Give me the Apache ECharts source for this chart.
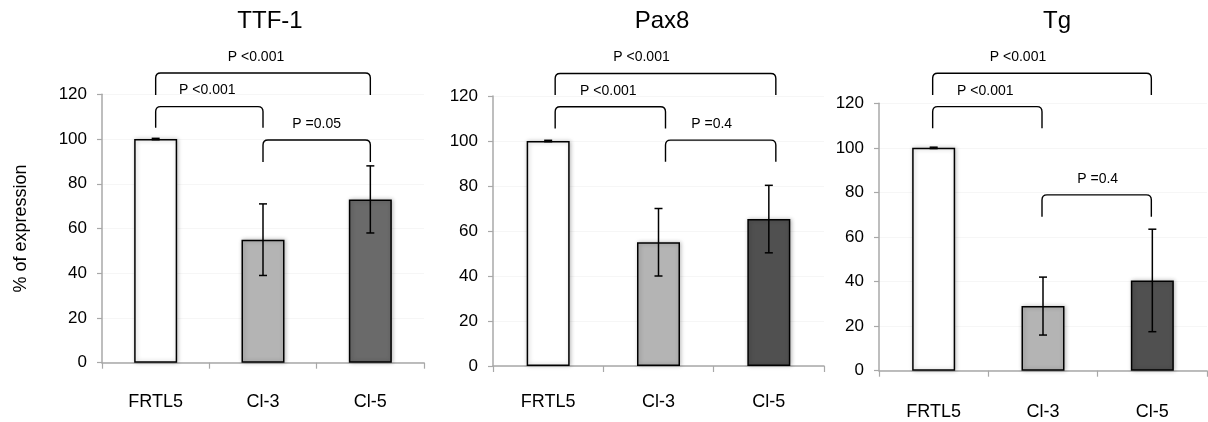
<!DOCTYPE html>
<html>
<head>
<meta charset="utf-8">
<script src="https://cdn.jsdelivr.net/npm/echarts@6/dist/echarts.min.js"></script>
<style>
  html, body { margin: 0; padding: 0; background: #fff; }
  #chart { width: 1208px; height: 422px; }
</style>
</head>
<body>
<div id="chart"></div>
<script>
// ---------- data ----------
const panelTitles = ['TTF-1', 'Pax8', 'Tg'];
const categories = ['FRTL5', 'Cl-3', 'Cl-5'];
const yAxisName = '% of expression';
const yMax = 120;
const yStep = 20;

const ttf1Values = [100, 55, 73];
const ttf1Errors = [0.3, 16, 15];
const pax8Values = [100, 55, 65.3];
const pax8Errors = [0.3, 15, 15];
const tgValues = [100, 29, 40.5];
const tgErrors = [0.3, 13, 23];

// brackets: [fromIndex, toIndex, topValue, legEndValue]
const ttf1Brackets = [[0, 2, 129.5, 119.7], [0, 1, 114.5, 105], [1, 2, 99.6, 89.7]];
const pax8Brackets = [[0, 2, 130, 120.4], [0, 1, 115.2, 105.6], [1, 2, 100.4, 90.8]];
const tgBrackets = [[0, 2, 133.5, 123.7], [0, 1, 118.5, 108.8], [1, 2, 78.9, 69.1]];

const ttf1PLabels = ['P <0.001', 'P <0.001', 'P =0.05'];
const pax8PLabels = ['P <0.001', 'P <0.001', 'P =0.4'];
const tgPLabels = ['P <0.001', 'P <0.001', 'P =0.4'];

// ---------- layout / style ----------
const panelValues = [ttf1Values, pax8Values, tgValues];
const panelErrors = [ttf1Errors, pax8Errors, tgErrors];
const panelBrackets = [ttf1Brackets, pax8Brackets, tgBrackets];
const panelPLabels = [ttf1PLabels, pax8PLabels, tgPLabels];

const layout = [
  { left: 102, top: 94.3, width: 322, height: 268.4, titleX: 270, catMargin: 30, bracketDx: 0, labelDx: [-7, -2, 0] },
  { left: 493, top: 96, width: 331, height: 270, titleX: 662, catMargin: 27, bracketDx: 7, labelDx: [-24, -2, -9] },
  { left: 879, top: 103.3, width: 328, height: 267.4, titleX: 1057, catMargin: 32, bracketDx: -1, labelDx: [-24, -2, 1] }
];
const barFills = [
  ['#ffffff', '#b4b4b4', '#6a6a6a'],
  ['#ffffff', '#b4b4b4', '#505050'],
  ['#ffffff', '#b4b4b4', '#505050']
];
const FONT = 'Liberation Sans, Arial, Helvetica, sans-serif';

// ---------- build option ----------
const grids = [], xAxes = [], yAxes = [], series = [], titles = [];

layout.forEach((L, p) => {
  grids.push({ left: L.left, top: L.top, width: L.width, height: L.height, outerBoundsMode: 'none', containLabel: false });
  titles.push({
    text: panelTitles[p], left: L.titleX, top: 9, textAlign: 'center', padding: 0,
    textStyle: { fontFamily: FONT, fontSize: 24, fontWeight: 'normal', color: '#000' }
  });
  xAxes.push({
    type: 'category', gridIndex: p, data: categories, boundaryGap: true,
    axisLine: { show: true, lineStyle: { color: '#a8a8a8', width: 1.5 } },
    axisTick: { show: true, length: 6, interval: 0, alignWithLabel: false, lineStyle: { color: '#a8a8a8', width: 1.2 } },
    axisLabel: { fontFamily: FONT, fontSize: 18, color: '#000', margin: L.catMargin, interval: 0 },
    splitLine: { show: false }
  });
  yAxes.push({
    type: 'value', gridIndex: p, min: 0, max: yMax, interval: yStep,
    name: p === 0 ? yAxisName : '', nameLocation: 'middle', nameGap: 72, nameRotate: 90,
    nameTextStyle: { fontFamily: FONT, fontSize: 18, color: '#000' },
    axisLine: { show: true, lineStyle: { color: '#a8a8a8', width: 1.5 } },
    axisTick: { show: true, length: 5, lineStyle: { color: '#a8a8a8', width: 1.2 } },
    axisLabel: { fontFamily: FONT, fontSize: 17, color: '#000', margin: 15 },
    splitLine: { show: true, lineStyle: { color: '#f6f6f6', width: 1 } }
  });

  series.push({
    type: 'bar', xAxisIndex: p, yAxisIndex: p, barWidth: 43, z: 2,
    data: panelValues[p].map((v, i) => ({
      value: v,
      itemStyle: {
        color: barFills[p][i], borderColor: '#000', borderWidth: 1.5,
        shadowBlur: 4, shadowColor: 'rgba(0,0,0,0.25)', shadowOffsetX: 1
      }
    })),
    emphasis: { disabled: true }, animation: false
  });

  series.push({
    type: 'custom', xAxisIndex: p, yAxisIndex: p, z: 5, animation: false, silent: true,
    data: panelValues[p].map((v, i) => [i, v, panelErrors[p][i]]),
    encode: { x: 0, y: 1 },
    renderItem: function (params, api) {
      const x = api.value(0), v = api.value(1), e = api.value(2);
      const t = api.coord([x, v + e]);
      const b = api.coord([x, v - e]);
      const cap = 4;
      const st = { stroke: '#000', lineWidth: 1.5 };
      return {
        type: 'group', children: [
          { type: 'line', shape: { x1: t[0], y1: t[1], x2: b[0], y2: b[1] }, style: st },
          { type: 'line', shape: { x1: t[0] - cap, y1: t[1], x2: t[0] + cap, y2: t[1] }, style: st },
          { type: 'line', shape: { x1: b[0] - cap, y1: b[1], x2: b[0] + cap, y2: b[1] }, style: st }
        ]
      };
    }
  });

  const labels = panelPLabels[p];
  series.push({
    type: 'custom', xAxisIndex: p, yAxisIndex: p, z: 6, animation: false, silent: true, clip: false,
    data: panelBrackets[p],
    encode: { x: [0, 1], y: [2, 3] },
    renderItem: function (params, api) {
      const f = api.value(0), t = api.value(1), top = api.value(2), bot = api.value(3);
      const a = api.coord([f, top]);
      const c = api.coord([t, top]);
      const ab = api.coord([f, bot]);
      const x1 = a[0] + L.bracketDx, x2 = c[0] + L.bracketDx, yt = a[1], yb = ab[1];
      const r = 5;
      const path = 'M' + x1 + ',' + yb + ' L' + x1 + ',' + (yt + r) +
        ' Q' + x1 + ',' + yt + ' ' + (x1 + r) + ',' + yt +
        ' L' + (x2 - r) + ',' + yt +
        ' Q' + x2 + ',' + yt + ' ' + x2 + ',' + (yt + r) +
        ' L' + x2 + ',' + yb;
      return {
        type: 'group', children: [
          { type: 'path', shape: { pathData: path }, style: { stroke: '#000', lineWidth: 1.4, fill: null } },
          {
            type: 'text', x: (x1 + x2) / 2 + L.labelDx[params.dataIndex], y: yt - 16,
            style: {
              text: labels[params.dataIndex], fontFamily: FONT, fontSize: 14, fill: '#000',
              align: 'center', verticalAlign: 'middle'
            }
          }
        ]
      };
    }
  });
});

const chart = echarts.init(document.getElementById('chart'), null, { renderer: 'canvas' });
chart.setOption({
  backgroundColor: '#ffffff',
  animation: false,
  title: titles,
  grid: grids,
  xAxis: xAxes,
  yAxis: yAxes,
  series: series,
  tooltip: { show: false }
});
</script>
</body>
</html>
